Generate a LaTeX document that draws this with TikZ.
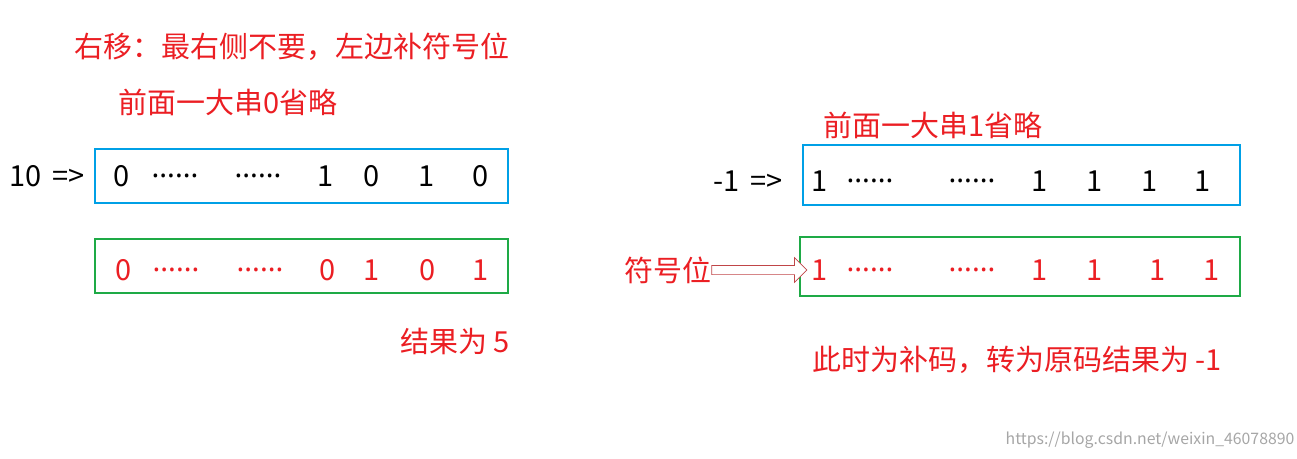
\documentclass[tikz,border=0pt]{standalone}
\usepackage{fontspec}
\setmainfont{Noto Sans CJK SC}
\newfontfamily\latinfont{Noto Sans}
\usetikzlibrary{shapes.arrows}
\definecolor{rd}{RGB}{235,30,35}
\definecolor{bl}{RGB}{0,160,230}
\definecolor{gr}{RGB}{30,170,70}
\newcommand{\sixdots}{{\latinfont......}}
\begin{document}
\begin{tikzpicture}[x=0.02cm, y=-0.02cm, font=\fontsize{16.5}{19}\selectfont]
  \tikzstyle{note}=[text=rd, inner sep=0pt]
  \tikzstyle{bit}=[inner sep=0pt]
  \tikzstyle{bluebox}=[draw=bl, line width=1.2pt]
  \tikzstyle{greenbox}=[draw=gr, line width=1.2pt]
  \useasboundingbox (0,0) rectangle (1297,458);

  % Notes
  \node[note] (title) at (292,47) {右移：最右侧不要，左边补符号位};
  \node[note] (omit0) at (228,102) {前面一大串0省略};
  \node[note] (omit1) at (933,125) {前面一大串1省略};
  \node[note] (res5) at (455,341) {结果为 5};
  \node[note] (resm1) at (1017,360) {此时为补码，转为原码结果为 -1};
  \node[note] (sign) at (668,270) {符号位};

  % Boxes
  \draw[bluebox] (95,149) rectangle (508,203);
  \draw[greenbox] (95,239) rectangle (508,293);
  \draw[bluebox] (803,145) rectangle (1240,205);
  \draw[greenbox] (800,237) rectangle (1240,296);

  % Left
  \node[bit] (ten) at (47,176) {10 \,=>};
  \foreach \x/\t [count=\i] in {122/0,175/\sixdots,258/\sixdots,326/1,372/0,427/1,481/0}
    \node[bit] (a\i) at (\x,176) {\t};
  \foreach \x/\t [count=\i] in {124/0,176/\sixdots,260/\sixdots,328/0,372/1,428/0,481/1}
    \node[bit, text=rd] (b\i) at (\x,270) {\t};

  % Right
  \node[bit] (mone) at (748,181) {-1 \,=>};
  \foreach \x/\t [count=\i] in {820/1,870/\sixdots,972/\sixdots,1040/1,1095/1,1150/1,1203/1}
    \node[bit] (c\i) at (\x,181) {\t};
  \foreach \x/\t [count=\i] in {820/1,870/\sixdots,972/\sixdots,1040/1,1095/1,1158/1,1212/1}
    \node[bit, text=rd] (d\i) at (\x,270) {\t};

  % Arrow
  \node[single arrow, draw=rd!60!gray, fill=white, minimum width=14pt,
        single arrow head extend=2pt, inner sep=1pt,
        minimum height=1.9cm] (arr) at (757,270) {};

  \node[text=gray!70, font=\fontsize{9}{11}\selectfont] (wm) at (1150,440)
    {https://blog.csdn.net/weixin\_46078890};
\end{tikzpicture}
\end{document}
